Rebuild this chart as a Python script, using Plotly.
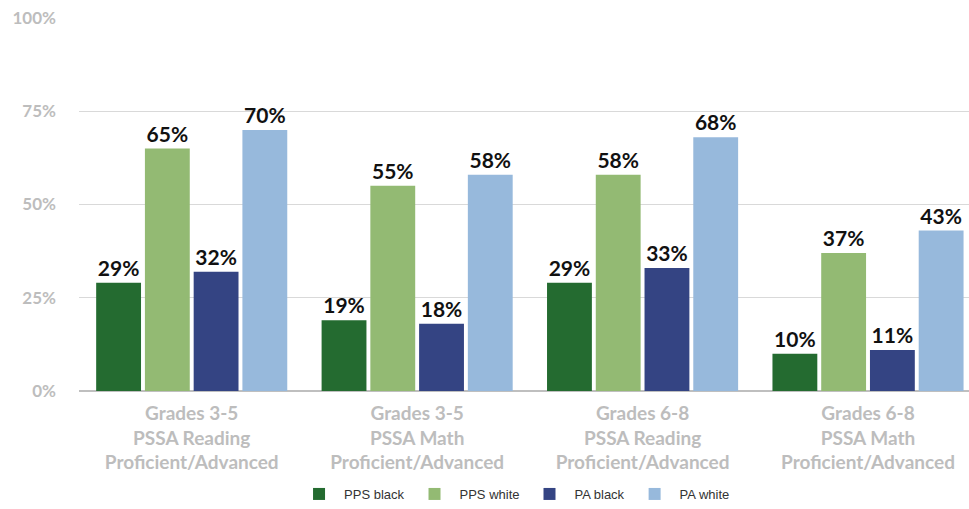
import plotly.graph_objects as go

categories = [
    "Grades 3-5<br>PSSA Reading<br>Proficient/Advanced",
    "Grades 3-5<br>PSSA Math<br>Proficient/Advanced",
    "Grades 6-8<br>PSSA Reading<br>Proficient/Advanced",
    "Grades 6-8<br>PSSA Math<br>Proficient/Advanced",
]
series_names = ["PPS black", "PPS white", "PA black", "PA white"]
pps_black = [29, 19, 29, 10]
pps_white = [65, 55, 58, 37]
pa_black = [32, 18, 33, 11]
pa_white = [70, 58, 68, 43]
colors = ["#246B30", "#93BA73", "#344483", "#97B9DC"]
y_ticks = [0, 25, 50, 75, 100]
y_tick_labels = [f"{v}%" for v in y_ticks]

fig = go.Figure()
for name, vals, col in zip(series_names, [pps_black, pps_white, pa_black, pa_white], colors):
    fig.add_trace(go.Bar(
        x=categories, y=vals, name=name,
        marker=dict(color=col, line=dict(width=0)),
        text=[f"<b>{v}%</b>" for v in vals],
        textposition="outside",
        textfont=dict(family="Lato", size=21, color="#111111"),
        cliponaxis=False,
    ))

fig.update_layout(
    width=969, height=509,
    margin=dict(l=79, r=0, t=18, b=118),
    paper_bgcolor="white", plot_bgcolor="white",
    barmode="group", bargap=0.135, bargroupgap=0.08,
    showlegend=True,
    legend=dict(orientation="h", xref="container", x=0.531, xanchor="center",
                yref="container", y=-0.017, yanchor="bottom",
                font=dict(family="Liberation Sans, Arial", size=13, color="#333333"),
                itemwidth=40, traceorder="normal"),
)
fig.update_xaxes(
    range=[-0.5, 3.448], showgrid=False, showline=False, zeroline=False,
    tickvals=categories, ticktext=[f"<b>{c}</b>" for c in categories],
    tickfont=dict(family="Lato", size=19, color="#BDBDBD"),
    ticks="", ticklabelstandoff=9,
)
fig.update_yaxes(
    range=[0, 100], tickvals=y_ticks, ticktext=[f"<b>{t}</b>" for t in y_tick_labels],
    showgrid=True, gridcolor="#D9D9D9", gridwidth=1,
    zeroline=True, zerolinecolor="#BFBFBF", zerolinewidth=1.5,
    showline=False, ticks="",
    tickfont=dict(family="Lato", size=17, color="#BDBDBD"),
    ticklabelstandoff=22,
)
fig.write_html("out.html")
